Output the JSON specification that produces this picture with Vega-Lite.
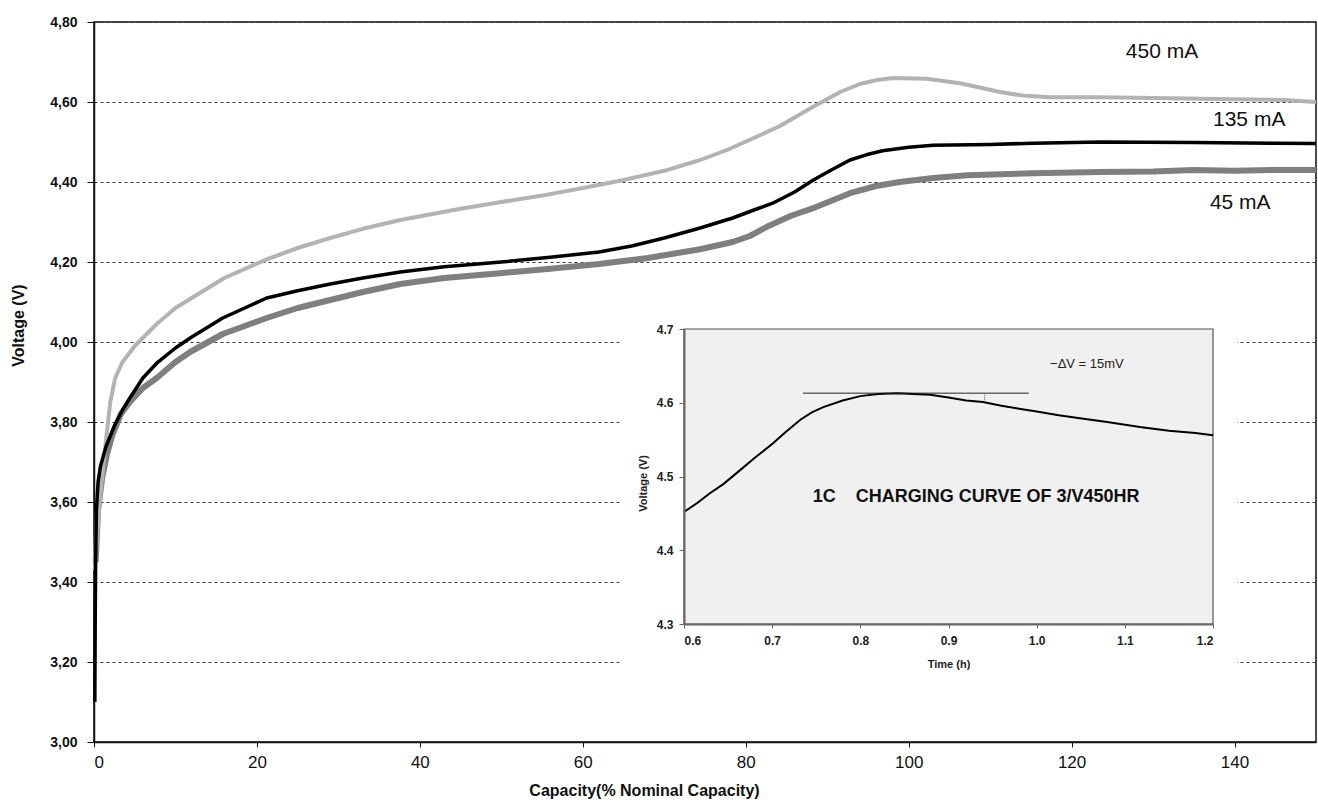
{
  "$schema": "https://vega.github.io/schema/vega-lite/v6.json",
  "width": 1222,
  "height": 720,
  "autosize": "none",
  "padding": {"left": 94, "top": 22, "right": 2, "bottom": 66},
  "background": "white",
  "config": {"view": {"stroke": "#111", "strokeWidth": 1.5}, "font": "Liberation Sans"},
  "datasets": {
    "curves": [
      {"series": "45 mA", "x": 0.2, "v": 3.45}, {"series": "45 mA", "x": 0.5, "v": 3.58}, {"series": "45 mA", "x": 1.0, "v": 3.66}, {"series": "45 mA", "x": 1.6, "v": 3.72}, {"series": "45 mA", "x": 2.3, "v": 3.77}, {"series": "45 mA", "x": 3.3, "v": 3.82}, {"series": "45 mA", "x": 4.4, "v": 3.85}, {"series": "45 mA", "x": 6, "v": 3.885}, {"series": "45 mA", "x": 7.7, "v": 3.91}, {"series": "45 mA", "x": 10, "v": 3.95}, {"series": "45 mA", "x": 11.8, "v": 3.975}, {"series": "45 mA", "x": 15.8, "v": 4.02}, {"series": "45 mA", "x": 21.2, "v": 4.06}, {"series": "45 mA", "x": 25, "v": 4.085}, {"series": "45 mA", "x": 29, "v": 4.105}, {"series": "45 mA", "x": 33, "v": 4.125}, {"series": "45 mA", "x": 37.6, "v": 4.145}, {"series": "45 mA", "x": 43, "v": 4.16}, {"series": "45 mA", "x": 49.8, "v": 4.172}, {"series": "45 mA", "x": 56, "v": 4.183}, {"series": "45 mA", "x": 62, "v": 4.195}, {"series": "45 mA", "x": 68, "v": 4.21}, {"series": "45 mA", "x": 74.4, "v": 4.232}, {"series": "45 mA", "x": 78.4, "v": 4.25}, {"series": "45 mA", "x": 80.5, "v": 4.265}, {"series": "45 mA", "x": 82.6, "v": 4.288}, {"series": "45 mA", "x": 85.5, "v": 4.315}, {"series": "45 mA", "x": 88.7, "v": 4.338}, {"series": "45 mA", "x": 92.8, "v": 4.372}, {"series": "45 mA", "x": 96, "v": 4.39}, {"series": "45 mA", "x": 98.9, "v": 4.4}, {"series": "45 mA", "x": 103, "v": 4.41}, {"series": "45 mA", "x": 107.2, "v": 4.417}, {"series": "45 mA", "x": 115.3, "v": 4.422}, {"series": "45 mA", "x": 123.5, "v": 4.425}, {"series": "45 mA", "x": 130, "v": 4.426}, {"series": "45 mA", "x": 135, "v": 4.43}, {"series": "45 mA", "x": 140, "v": 4.428}, {"series": "45 mA", "x": 145, "v": 4.43}, {"series": "45 mA", "x": 150, "v": 4.43},
      {"series": "450 mA", "x": 0.1, "v": 3.43}, {"series": "450 mA", "x": 0.4, "v": 3.52}, {"series": "450 mA", "x": 0.7, "v": 3.6}, {"series": "450 mA", "x": 1.1, "v": 3.68}, {"series": "450 mA", "x": 1.5, "v": 3.76}, {"series": "450 mA", "x": 2.0, "v": 3.85}, {"series": "450 mA", "x": 2.6, "v": 3.91}, {"series": "450 mA", "x": 3.5, "v": 3.95}, {"series": "450 mA", "x": 5, "v": 3.99}, {"series": "450 mA", "x": 7.7, "v": 4.045}, {"series": "450 mA", "x": 10, "v": 4.085}, {"series": "450 mA", "x": 12, "v": 4.11}, {"series": "450 mA", "x": 16, "v": 4.16}, {"series": "450 mA", "x": 21, "v": 4.205}, {"series": "450 mA", "x": 25, "v": 4.235}, {"series": "450 mA", "x": 29, "v": 4.26}, {"series": "450 mA", "x": 33, "v": 4.283}, {"series": "450 mA", "x": 37.6, "v": 4.305}, {"series": "450 mA", "x": 45, "v": 4.333}, {"series": "450 mA", "x": 50, "v": 4.35}, {"series": "450 mA", "x": 55, "v": 4.366}, {"series": "450 mA", "x": 60, "v": 4.385}, {"series": "450 mA", "x": 65, "v": 4.405}, {"series": "450 mA", "x": 70, "v": 4.428}, {"series": "450 mA", "x": 74.4, "v": 4.455}, {"series": "450 mA", "x": 77.7, "v": 4.48}, {"series": "450 mA", "x": 81, "v": 4.51}, {"series": "450 mA", "x": 84.2, "v": 4.54}, {"series": "450 mA", "x": 88, "v": 4.585}, {"series": "450 mA", "x": 91.6, "v": 4.625}, {"series": "450 mA", "x": 94, "v": 4.645}, {"series": "450 mA", "x": 96.1, "v": 4.655}, {"series": "450 mA", "x": 98.1, "v": 4.66}, {"series": "450 mA", "x": 102.2, "v": 4.658}, {"series": "450 mA", "x": 106.3, "v": 4.647}, {"series": "450 mA", "x": 109, "v": 4.635}, {"series": "450 mA", "x": 111.2, "v": 4.625}, {"series": "450 mA", "x": 114, "v": 4.616}, {"series": "450 mA", "x": 117.3, "v": 4.612}, {"series": "450 mA", "x": 123.5, "v": 4.612}, {"series": "450 mA", "x": 130, "v": 4.61}, {"series": "450 mA", "x": 140, "v": 4.607}, {"series": "450 mA", "x": 146, "v": 4.605}, {"series": "450 mA", "x": 150, "v": 4.6},
      {"series": "135 mA", "x": 0.1, "v": 3.1}, {"series": "135 mA", "x": 0.15, "v": 3.3}, {"series": "135 mA", "x": 0.2, "v": 3.45}, {"series": "135 mA", "x": 0.3, "v": 3.58}, {"series": "135 mA", "x": 0.5, "v": 3.65}, {"series": "135 mA", "x": 0.8, "v": 3.69}, {"series": "135 mA", "x": 1.5, "v": 3.74}, {"series": "135 mA", "x": 2.5, "v": 3.79}, {"series": "135 mA", "x": 3.5, "v": 3.83}, {"series": "135 mA", "x": 4.4, "v": 3.86}, {"series": "135 mA", "x": 6, "v": 3.91}, {"series": "135 mA", "x": 7.7, "v": 3.947}, {"series": "135 mA", "x": 10, "v": 3.985}, {"series": "135 mA", "x": 11.8, "v": 4.01}, {"series": "135 mA", "x": 15.8, "v": 4.06}, {"series": "135 mA", "x": 21.2, "v": 4.11}, {"series": "135 mA", "x": 25, "v": 4.128}, {"series": "135 mA", "x": 29, "v": 4.145}, {"series": "135 mA", "x": 33, "v": 4.16}, {"series": "135 mA", "x": 37.6, "v": 4.175}, {"series": "135 mA", "x": 43, "v": 4.188}, {"series": "135 mA", "x": 50, "v": 4.2}, {"series": "135 mA", "x": 56, "v": 4.212}, {"series": "135 mA", "x": 62, "v": 4.225}, {"series": "135 mA", "x": 66, "v": 4.24}, {"series": "135 mA", "x": 70, "v": 4.26}, {"series": "135 mA", "x": 74.4, "v": 4.285}, {"series": "135 mA", "x": 78.4, "v": 4.31}, {"series": "135 mA", "x": 81, "v": 4.33}, {"series": "135 mA", "x": 83.3, "v": 4.347}, {"series": "135 mA", "x": 86, "v": 4.375}, {"series": "135 mA", "x": 88.3, "v": 4.405}, {"series": "135 mA", "x": 90.5, "v": 4.43}, {"series": "135 mA", "x": 92.8, "v": 4.455}, {"series": "135 mA", "x": 94.8, "v": 4.468}, {"series": "135 mA", "x": 96.8, "v": 4.478}, {"series": "135 mA", "x": 100, "v": 4.487}, {"series": "135 mA", "x": 103, "v": 4.492}, {"series": "135 mA", "x": 110, "v": 4.494}, {"series": "135 mA", "x": 115.3, "v": 4.497}, {"series": "135 mA", "x": 123.5, "v": 4.5}, {"series": "135 mA", "x": 135, "v": 4.499}, {"series": "135 mA", "x": 145, "v": 4.497}, {"series": "135 mA", "x": 150, "v": 4.496}
    ],
    "inset": [
      {"t": 0.6, "v": 4.452}, {"t": 0.615, "v": 4.464}, {"t": 0.629, "v": 4.477}, {"t": 0.645, "v": 4.49}, {"t": 0.664, "v": 4.509}, {"t": 0.68, "v": 4.525}, {"t": 0.701, "v": 4.545}, {"t": 0.715, "v": 4.56}, {"t": 0.732, "v": 4.577}, {"t": 0.745, "v": 4.587}, {"t": 0.758, "v": 4.594}, {"t": 0.78, "v": 4.603}, {"t": 0.8, "v": 4.609}, {"t": 0.82, "v": 4.612}, {"t": 0.842, "v": 4.613}, {"t": 0.86, "v": 4.612}, {"t": 0.879, "v": 4.611}, {"t": 0.9, "v": 4.607}, {"t": 0.92, "v": 4.603}, {"t": 0.939, "v": 4.601}, {"t": 0.96, "v": 4.596}, {"t": 0.98, "v": 4.592}, {"t": 1.0, "v": 4.588}, {"t": 1.025, "v": 4.583}, {"t": 1.049, "v": 4.579}, {"t": 1.08, "v": 4.574}, {"t": 1.117, "v": 4.567}, {"t": 1.15, "v": 4.562}, {"t": 1.18, "v": 4.559}, {"t": 1.2, "v": 4.556}
    ],
    "mainLabels": [
      {"label": "450 mA", "x": 131.1, "v": 4.725},
      {"label": "135 mA", "x": 141.8, "v": 4.555},
      {"label": "45 mA", "x": 140.7, "v": 4.348}
    ]
  },
  "layer": [
    {
      "layer": [
        {
          "data": {"values": [{}]},
          "mark": {"type": "rect", "fill": "white", "strokeWidth": 0},
          "encoding": {
            "x": {"datum": 64.5, "type": "quantitative"},
            "x2": {"datum": 140.3},
            "y": {"datum": 3.155, "type": "quantitative"},
            "y2": {"datum": 4.065}
          }
        },
        {
          "data": {"name": "curves"},
          "transform": [{"filter": "datum.series === '45 mA'"}],
          "mark": {"type": "line", "color": "#7f7f7f", "strokeWidth": 6, "strokeJoin": "round", "strokeCap": "butt"},
          "encoding": {
            "x": {"field": "x", "type": "quantitative",
              "scale": {"domain": [0, 150], "nice": false, "zero": false},
              "axis": {"title": "Capacity(% Nominal Capacity)", "values": [0, 20, 40, 60, 80, 100, 120, 140], "grid": false,
                "domainColor": "#111", "domainWidth": 1.5, "tickColor": "#111", "tickSize": 5, "tickWidth": 1,
                "labelFontSize": 17, "labelColor": "#111", "labelPadding": 7, "labelFont": "Liberation Sans",
                "titleFontSize": 16, "titleFontWeight": "bold", "titleColor": "#111", "titleX": 550, "titleY": 48, "titleBaseline": "middle", "titleFont": "Liberation Sans"}},
            "y": {"field": "v", "type": "quantitative",
              "scale": {"domain": [3.0, 4.8], "nice": false, "zero": false},
              "axis": {"title": "Voltage (V)", "values": [3, 3.2, 3.4, 3.6, 3.8, 4, 4.2, 4.4, 4.6, 4.8],
                "labelExpr": "replace(format(datum.value, '.2f'), '.', ',')",
                "grid": true, "gridDash": [3, 3], "gridColor": "#333", "gridWidth": 1,
                "domainColor": "#111", "domainWidth": 1.5, "tickColor": "#111", "tickSize": 7, "tickWidth": 1,
                "labelFontSize": 14, "labelFontWeight": "bold", "labelColor": "#111", "labelPadding": 10, "labelFont": "Liberation Sans",
                "titleFontSize": 16, "titleFontWeight": "bold", "titleColor": "#111", "titleX": -76, "titleY": 303, "titleBaseline": "middle", "titleFont": "Liberation Sans"}}
          }
        },
        {
          "data": {"name": "curves"},
          "transform": [{"filter": "datum.series === '450 mA'"}],
          "mark": {"type": "line", "color": "#b3b3b3", "strokeWidth": 4, "strokeJoin": "round"},
          "encoding": {
            "x": {"field": "x", "type": "quantitative"},
            "y": {"field": "v", "type": "quantitative"}
          }
        },
        {
          "data": {"name": "curves"},
          "transform": [{"filter": "datum.series === '135 mA'"}],
          "mark": {"type": "line", "color": "#000000", "strokeWidth": 3.5, "strokeJoin": "round"},
          "encoding": {
            "x": {"field": "x", "type": "quantitative"},
            "y": {"field": "v", "type": "quantitative"}
          }
        },
        {
          "data": {"name": "mainLabels"},
          "mark": {"type": "text", "fontSize": 21, "align": "center", "baseline": "middle", "color": "#111", "font": "Liberation Sans"},
          "encoding": {
            "x": {"field": "x", "type": "quantitative"},
            "y": {"field": "v", "type": "quantitative"},
            "text": {"field": "label"}
          }
        }
      ]
    },
    {
      "layer": [
        {
          "data": {"values": [{}]},
          "mark": {"type": "rect", "fill": "#f0f0f0", "stroke": "#555", "strokeWidth": 1.2},
          "encoding": {
            "x": {"datum": 0.6, "type": "quantitative"},
            "x2": {"datum": 1.2},
            "y": {"datum": 4.3, "type": "quantitative"},
            "y2": {"datum": 4.7}
          }
        },
        {
          "data": {"name": "inset"},
          "mark": {"type": "line", "color": "#000", "strokeWidth": 2},
          "encoding": {
            "x": {"field": "t", "type": "quantitative",
              "scale": {"domain": [0.6, 1.2], "range": [590, 1119], "nice": false, "zero": false},
              "axis": {"orient": "bottom", "offset": -118, "zindex": 1, "title": "Time (h)", "values": [0.6, 0.7, 0.8, 0.9, 1.0, 1.1, 1.2], "format": ".1f", "grid": false,
                "domainColor": "#666", "domainWidth": 2, "tickColor": "#666", "tickSize": 4,
                "labelFontSize": 12, "labelFontWeight": "bold", "labelColor": "#222", "labelPadding": 7, "labelFont": "Liberation Sans",
                "titleFontSize": 11, "titleFontWeight": "bold", "titleColor": "#222", "titlePadding": 12, "titleFont": "Liberation Sans"}},
            "y": {"field": "v", "type": "quantitative",
              "scale": {"domain": [4.3, 4.7], "range": [602, 307], "nice": false, "zero": false},
              "axis": {"orient": "left", "offset": -590, "zindex": 1, "title": "Voltage (V)", "values": [4.3, 4.4, 4.5, 4.6, 4.7], "format": ".1f", "grid": false,
                "domainColor": "#666", "domainWidth": 2, "tickColor": "#666", "tickSize": 5,
                "labelFontSize": 12, "labelFontWeight": "bold", "labelColor": "#222", "labelPadding": 6, "labelFont": "Liberation Sans",
                "titleFontSize": 11, "titleFontWeight": "bold", "titleColor": "#222", "titlePadding": 8, "titleY": 461, "titleFont": "Liberation Sans"}}
          }
        },
        {
          "data": {"values": [{}]},
          "mark": {"type": "rule", "color": "#222", "strokeWidth": 1},
          "encoding": {
            "x": {"datum": 0.735, "type": "quantitative"},
            "x2": {"datum": 0.991},
            "y": {"datum": 4.613, "type": "quantitative"}
          }
        },
        {
          "data": {"values": [{}]},
          "mark": {"type": "rule", "color": "#555", "strokeWidth": 1, "strokeDash": [1, 1]},
          "encoding": {
            "x": {"datum": 0.941, "type": "quantitative"},
            "y": {"datum": 4.613, "type": "quantitative"},
            "y2": {"datum": 4.601}
          }
        },
        {
          "data": {"values": [{}]},
          "mark": {"type": "text", "fontSize": 13, "align": "center", "baseline": "middle", "color": "#222", "font": "Liberation Sans"},
          "encoding": {
            "x": {"datum": 1.057, "type": "quantitative"},
            "y": {"datum": 4.653, "type": "quantitative"},
            "text": {"value": "−ΔV = 15mV"}
          }
        },
        {
          "data": {"values": [{}]},
          "mark": {"type": "text", "fontSize": 18, "fontWeight": "bold", "align": "left", "baseline": "middle", "color": "#111", "font": "Liberation Sans"},
          "encoding": {
            "x": {"datum": 0.746, "type": "quantitative"},
            "y": {"datum": 4.472, "type": "quantitative"},
            "text": {"value": "1C\u00a0\u00a0\u00a0\u00a0CHARGING CURVE OF 3/V450HR"}
          }
        }
      ]
    }
  ],
  "resolve": {"scale": {"x": "independent", "y": "independent"}, "axis": {"x": "independent", "y": "independent"}}
}
